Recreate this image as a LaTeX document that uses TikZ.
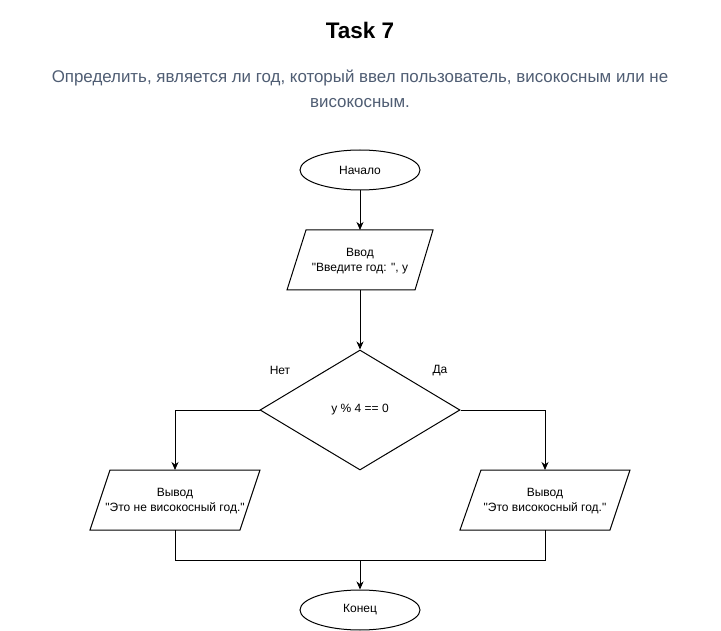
\documentclass[tikz,border=0pt]{standalone}
\usepackage{fontspec}
\newfontfamily\lsans{Liberation Sans}
\usetikzlibrary{shapes.geometric,arrows.meta}
\definecolor{subcol}{HTML}{4F5D73}
\begin{document}
\begin{tikzpicture}[x=1pt,y=-1pt,
  every node/.style={font=\lsans\fontsize{12}{15}\selectfont, inner sep=0pt, align=center},
  line/.style={draw=black, line width=1pt},
  arr/.style={line, -{Stealth[length=8pt,width=7pt,inset=2.5pt]}},
  term/.style={ellipse, line, minimum width=120pt, minimum height=40pt},
  iobox/.style={minimum width=120pt, minimum height=60pt},
  cond/.style={diamond, line, minimum width=200pt, minimum height=120pt},
  lab/.style={font=\lsans\fontsize{12}{15}\selectfont}
]
\useasboundingbox[fill=white] (0,0) rectangle (721,631);

\node[font=\lsans\bfseries\fontsize{22.5}{26}\selectfont] (title) at (360,30) {Task 7};
\node[font=\lsans\fontsize{16.9}{25}\selectfont, text=subcol] (sub) at (360,89)
  {Определить, является ли год, который ввел пользователь, високосным или не\\високосным.};

\node[term] (start) at (360,170) {Начало};

\draw[line] (306,230) -- (433,230) -- (415,290) -- (287,290) -- cycle;
\node[iobox] (inp) at (360,261.5) {Ввод\\"Введите год: ", y};

\node[cond] (dec) at (360,410) {y \% 4 == 0};
\node[lab] (no) at (280,370.5) {Нет};
\node[lab] (yes) at (440,370.5) {Да};

\draw[line] (110,470) -- (260,470) -- (240,530) -- (90,530) -- cycle;
\node[iobox] (outno) at (175,501.5) {Вывод\\"Это не високосный год."};

\draw[line] (481,470) -- (630,470) -- (610,530) -- (460,530) -- cycle;
\node[iobox] (outyes) at (545,501.5) {Вывод\\"Это високосный год."};

\node[term] (end) at (360,610) {Конец};
\coordinate (join) at (360,560);

\draw[arr] (start) -- (360,230);
\draw[arr] (360,290) -- (dec);
\draw[arr] (dec.west) -| (175,470);
\draw[arr] (dec.east) -| (545,470);
\draw[line] (175,530) |- (join);
\draw[line] (545,530) |- (join);
\draw[arr] (join) -- (end);
\end{tikzpicture}
\end{document}
